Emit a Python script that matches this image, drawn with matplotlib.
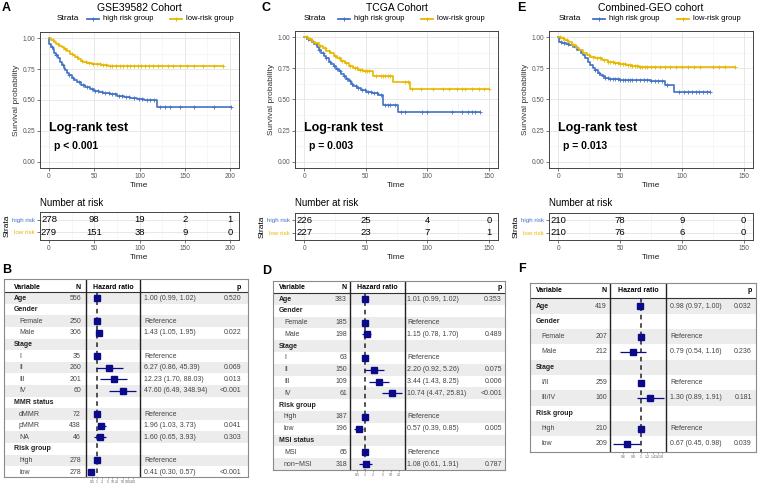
import numpy as np
import matplotlib.pyplot as plt
from matplotlib.lines import Line2D

plt.rcParams['font.family'] = ['Liberation Sans', 'DejaVu Sans']

W, H = 758, 486
BLUE = '#4472C4'
GOLD = '#E7B800'
NAVY = '#0B0B8A'

# ---------------- Kaplan-Meier curves (time, survival after step) ----------------
a_high_t = [0, 0.5, 2, 4, 6, 8, 10, 12, 14, 16, 18, 20, 22, 25, 28, 31, 35, 40, 45, 50,
            55, 60, 67, 75, 83, 90, 97, 105, 119, 201]
a_high_s = [1.0, 0.95, 0.93, 0.91, 0.88, 0.86, 0.84, 0.81, 0.78, 0.76, 0.74, 0.72, 0.70, 0.68,
            0.66, 0.645, 0.625, 0.605, 0.59, 0.575, 0.565, 0.555, 0.545, 0.535, 0.525, 0.515,
            0.505, 0.498, 0.445, 0.445]
a_high_cens = [3, 8, 15, 22, 27, 33, 38, 42, 47, 51, 54, 58, 62, 66, 70, 73, 77, 81, 85, 88,
               94, 99, 103, 108, 112, 116, 123, 128, 134, 145, 160, 182, 201]
a_low_t = [0, 2, 5, 8, 11, 14, 17, 20, 23, 26, 29, 32, 35, 38, 42, 47, 52, 57, 65, 192]
a_low_s = [1.0, 0.985, 0.97, 0.955, 0.94, 0.925, 0.91, 0.895, 0.875, 0.86, 0.845, 0.83, 0.815,
           0.805, 0.80, 0.795, 0.79, 0.78, 0.775, 0.775]
a_low_cens = [4, 10, 18, 25, 31, 36, 41, 44, 49, 53, 56, 60, 63, 67, 70, 74, 78, 82, 86, 90,
              94, 98, 102, 106, 110, 115, 120, 125, 131, 137, 145, 152, 160, 170, 182, 192]

c_high_t = [0, 2, 4, 6, 8, 10, 12, 14, 16, 18, 20, 22, 24, 26, 28, 30, 32, 34, 36, 38, 40,
            43, 46, 50, 55, 60, 64, 76, 143]
c_high_s = [1.0, 0.985, 0.975, 0.96, 0.945, 0.925, 0.90, 0.875, 0.85, 0.83, 0.805, 0.785,
            0.765, 0.745, 0.725, 0.705, 0.685, 0.665, 0.645, 0.625, 0.605, 0.59, 0.575, 0.56,
            0.55, 0.535, 0.455, 0.40, 0.40]
c_high_cens = [3, 7, 12, 15, 18, 21, 24, 27, 29, 32, 35, 37, 39, 42, 44, 47, 49, 52, 54, 57,
               59, 62, 66, 68, 70, 74, 79, 82, 96, 100, 120, 128, 133, 136, 139, 143]
c_low_t = [0, 3, 6, 9, 12, 15, 18, 21, 24, 27, 30, 33, 36, 40, 44, 48, 56, 72, 86, 150]
c_low_s = [1.0, 0.985, 0.965, 0.95, 0.93, 0.91, 0.89, 0.87, 0.85, 0.83, 0.81, 0.79, 0.765,
           0.75, 0.735, 0.73, 0.69, 0.64, 0.585, 0.585]
c_low_cens = [2, 5, 9, 13, 17, 20, 25, 28, 31, 34, 37, 41, 43, 45, 47, 49, 51, 53, 58, 62,
              64, 66, 68, 70, 82, 84, 88, 95, 105, 113, 118, 124, 128, 131, 136, 142, 146, 150]

e_high_t = [0, 0.5, 3, 6, 9, 12, 15, 18, 20, 22, 24, 26, 28, 30, 32, 34, 36, 38, 41, 50, 62,
            75, 86, 94, 123]
e_high_s = [1.0, 0.965, 0.955, 0.945, 0.935, 0.92, 0.90, 0.875, 0.855, 0.83, 0.805, 0.78,
            0.755, 0.735, 0.715, 0.70, 0.685, 0.675, 0.665, 0.66, 0.655, 0.65, 0.615, 0.56, 0.56]
e_high_cens = [2, 5, 8, 14, 30, 33, 36, 38, 40, 42, 44, 46, 48, 50, 52, 54, 56, 58, 60, 63,
               66, 69, 72, 75, 78, 81, 84, 88, 98, 102, 105, 108, 111, 114, 117, 120, 123]
e_low_t = [0, 2, 5, 8, 11, 14, 17, 20, 23, 26, 30, 35, 40, 45, 50, 55, 60, 65, 143]
e_low_s = [1.0, 0.99, 0.975, 0.96, 0.94, 0.915, 0.895, 0.875, 0.855, 0.845, 0.83, 0.815,
           0.805, 0.795, 0.785, 0.775, 0.765, 0.76, 0.76]
e_low_cens = [1, 4, 7, 12, 25, 28, 31, 34, 37, 40, 42, 44, 46, 48, 50, 52, 54, 56, 58, 60,
              62, 64, 66, 68, 70, 72, 75, 78, 82, 86, 90, 95, 100, 105, 110, 115, 125, 130,
              135, 143]

# number at risk
a_risk_times = [0, 50, 100, 150, 200]
a_risk_high = [278, 98, 19, 2, 1]
a_risk_low = [279, 151, 38, 9, 0]
c_risk_times = [0, 50, 100, 150]
c_risk_high = [226, 25, 4, 0]
c_risk_low = [227, 23, 7, 1]
e_risk_times = [0, 50, 100, 150]
e_risk_high = [210, 78, 9, 0]
e_risk_low = [210, 76, 6, 0]

# ---------------- forest plots ----------------
b_labels = ['Age', 'Gender', 'Female', 'Male', 'Stage', 'I', 'II', 'III', 'IV', 'MMR status',
            'dMMR', 'pMMR', 'NA', 'Risk group', 'high', 'low']
b_level = [0, 0, 1, 1, 0, 1, 1, 1, 1, 0, 1, 1, 1, 0, 1, 1]
b_n = [556, None, 250, 306, None, 35, 260, 201, 60, None, 72, 438, 46, None, 278, 278]
b_hr = [1.00, None, 1, 1.43, None, 1, 6.27, 12.23, 47.60, None, 1, 1.96, 1.60, None, 1, 0.41]
b_lo = [0.99, None, None, 1.05, None, None, 0.86, 1.70, 6.49, None, None, 1.03, 0.65, None, None, 0.30]
b_hi = [1.02, None, None, 1.95, None, None, 45.39, 88.03, 348.94, None, None, 3.73, 3.93, None, None, 0.57]
b_p = ['0.520', '', '', '0.022', '', '', '0.069', '0.013', '<0.001', '', '', '0.041', '0.303',
       '', '', '<0.001']

d_labels = ['Age', 'Gender', 'Female', 'Male', 'Stage', 'I', 'II', 'III', 'IV', 'Risk group',
            'high', 'low', 'MSI status', 'MSI', 'non\u2212MSI']
d_level = [0, 0, 1, 1, 0, 1, 1, 1, 1, 0, 1, 1, 0, 1, 1]
d_n = [383, None, 185, 198, None, 63, 150, 109, 61, None, 187, 196, None, 65, 318]
d_hr = [1.01, None, 1, 1.15, None, 1, 2.20, 3.44, 10.74, None, 1, 0.57, None, 1, 1.08]
d_lo = [0.99, None, None, 0.78, None, None, 0.92, 1.43, 4.47, None, None, 0.39, None, None, 0.61]
d_hi = [1.02, None, None, 1.70, None, None, 5.26, 8.25, 25.81, None, None, 0.85, None, None, 1.91]
d_p = ['0.353', '', '', '0.489', '', '', '0.075', '0.006', '<0.001', '', '', '0.005', '', '', '0.787']

f_labels = ['Age', 'Gender', 'Female', 'Male', 'Stage', 'I/II', 'III/IV', 'Risk group', 'high', 'low']
f_level = [0, 0, 1, 1, 0, 1, 1, 0, 1, 1]
f_n = [419, None, 207, 212, None, 259, 160, None, 210, 209]
f_hr = [0.98, None, 1, 0.79, None, 1, 1.30, None, 1, 0.67]
f_lo = [0.97, None, None, 0.54, None, None, 0.89, None, None, 0.45]
f_hi = [1.00, None, None, 1.16, None, None, 1.91, None, None, 0.98]
f_p = ['0.032', '', '', '0.236', '', '', '0.181', '', '', '0.039']

fig = plt.figure(figsize=(W / 100, H / 100), dpi=100)


def px_axes(x0, y0, x1, y1, **kw):
    return fig.add_axes([x0 / W, 1 - y1 / H, (x1 - x0) / W, (y1 - y0) / H], **kw)


def ftext(x, y, s, **kw):
    kw.setdefault('va', 'center')
    fig.text(x / W, 1 - y / H, s, **kw)


def surv_at(t, s, c):
    idx = np.searchsorted(t, c, side='right') - 1
    return np.asarray(s)[idx]


def style_grid(ax, xticks, yticks):
    ax.set_xticks(xticks)
    ax.set_yticks(yticks)
    ax.set_xticks([(a + b) / 2 for a, b in zip(xticks[:-1], xticks[1:])], minor=True)
    ax.grid(True, which='major', color='#E4E4E4', lw=0.6)
    ax.grid(True, which='minor', axis='x', color='#F0F0F0', lw=0.4)
    ax.set_axisbelow(True)
    for sp in ax.spines.values():
        sp.set_color('#444444')
        sp.set_linewidth(0.7)
    ax.tick_params(which='major', length=2, width=0.5, color='#444444',
                   labelsize=4.7, labelcolor='#555555', pad=1.5)
    ax.tick_params(which='minor', length=0)


def km_panel(box, xlim, xticks, curves, title, letter, letter_x, p_text, legend_x,
             risk_box, risk_times, risk_high, risk_low):
    x0, y0, x1, y1 = box
    ax = px_axes(x0, y0, x1, y1)
    for t, s, cens, col in curves:
        ax.step(t, s, where='post', color=col, lw=1.2)
        ax.plot(cens, surv_at(t, s, cens), ls='none', marker='+', ms=3, mew=0.6, color=col)
    ax.set_xlim(*xlim)
    ax.set_ylim(-0.05, 1.05)
    style_grid(ax, xticks, [0, 0.25, 0.5, 0.75, 1.0])
    ax.set_yticks([0.125, 0.375, 0.625, 0.875], minor=True)
    ax.grid(True, which='minor', axis='y', color='#F0F0F0', lw=0.4)
    ax.set_yticklabels(['0.00', '0.25', '0.50', '0.75', '1.00'])
    ax.set_ylabel('Survival probability', fontsize=6, color='#333333', labelpad=2)
    ax.set_xlabel('Time', fontsize=6, color='#222222', labelpad=1.5)
    ax.text(xlim[0] + 0.045 * (xlim[1] - xlim[0]), 0.27, 'Log-rank test',
            fontsize=9, fontweight='bold', va='center')
    ax.text(xlim[0] + 0.07 * (xlim[1] - xlim[0]), 0.13, p_text,
            fontsize=7.5, fontweight='bold', va='center')

    ftext((x0 + x1) / 2, 8, title, fontsize=7.5, ha='center')
    ftext(letter_x, 8, letter, fontsize=9, fontweight='bold')

    # legend
    lx = legend_x
    ftext(lx[0], 19, 'Strata', fontsize=6)
    for (a, b), col, lab in zip([(lx[1], lx[1] + 12), (lx[2], lx[2] + 12)], [BLUE, GOLD],
                                ['high risk group', 'low-risk group']):
        fig.add_artist(Line2D([a / W, b / W], [1 - 19 / H] * 2, color=col, lw=1.3))
        fig.add_artist(Line2D([(a + b) / 2 / W], [1 - 19 / H], color=col, marker='+',
                              ms=3, mew=0.7))
        ftext(b + 4, 19, lab, fontsize=5.5)

    # risk table
    rx0, ry0, rx1, ry1 = risk_box
    ftext(rx0, 203, 'Number at risk', fontsize=7)
    rax = px_axes(rx0, ry0, rx1, ry1)
    for tm, hi, lo in zip(risk_times, risk_high, risk_low):
        rax.text(tm, 2, str(hi), ha='center', va='center', fontsize=6.8)
        rax.text(tm, 1, str(lo), ha='center', va='center', fontsize=6.8)
    rax.set_xlim(*xlim)
    rax.set_ylim(0.4, 2.6)
    style_grid(rax, xticks, [1, 2])
    rax.set_yticklabels(['low risk', 'high risk'], fontsize=4.5)
    for lab, col in zip(rax.get_yticklabels(), [GOLD, BLUE]):
        lab.set_color(col)
    rax.set_ylabel('Strata', fontsize=6, labelpad=1)
    rax.set_xlabel('Time', fontsize=6, color='#222222', labelpad=1.5)


km_panel((40, 32, 239, 168), (-10, 210), [0, 50, 100, 150, 200],
         [(a_high_t, a_high_s, a_high_cens, BLUE), (a_low_t, a_low_s, a_low_cens, GOLD)],
         'GSE39582 Cohort', 'A', 2, 'p < 0.001', (57, 87, 170),
         (40, 212, 239, 240), a_risk_times, a_risk_high, a_risk_low)
km_panel((295, 31, 498, 168), (-7.5, 157.5), [0, 50, 100, 150],
         [(c_high_t, c_high_s, c_high_cens, BLUE), (c_low_t, c_low_s, c_low_cens, GOLD)],
         'TCGA Cohort', 'C', 262, 'p = 0.003', (304, 338, 421),
         (295, 213, 498, 240), c_risk_times, c_risk_high, c_risk_low)
km_panel((549, 31, 753, 168), (-7.5, 157.5), [0, 50, 100, 150],
         [(e_high_t, e_high_s, e_high_cens, BLUE), (e_low_t, e_low_s, e_low_cens, GOLD)],
         'Combined-GEO cohort', 'E', 517, 'p = 0.013', (559, 593, 677),
         (549, 213, 753, 240), e_risk_times, e_risk_high, e_risk_low)


def forest_panel(letter, letter_xy, box, seps, cols, head_y, row0, dy,
                 labels, level, ns, hrs, los, his, ps, xlim, xticks, xticklabels):
    x0, y0, x1, y1 = box
    s1, s2 = seps
    var_x, n_x, hr_x, p_x = cols
    ftext(letter_xy[0], letter_xy[1], letter, fontsize=9, fontweight='bold')
    ax = px_axes(x0, y0, x1, y1)
    ax.set_xlim(x0, x1)
    ax.set_ylim(y1, y0)
    ax.set_xticks([])
    ax.set_yticks([])
    for sp in ax.spines.values():
        sp.set_color('#8A8A8A')
        sp.set_linewidth(0.8)
    ys = [row0 + i * dy for i in range(len(labels))]
    for i, y in enumerate(ys):
        if i % 2 == 0:
            ax.axhspan(y - dy / 2, y + dy / 2, color='#ECECEC', lw=0)
    ax.axhline(row0 - dy / 2, color='#333333', lw=0.8)
    ax.axvline(s1, color='#222222', lw=1.0)
    ax.axvline(s2, color='#222222', lw=1.0)
    fs = 5
    ax.text(var_x, head_y, 'Variable', fontsize=fs, fontweight='bold', va='center')
    ax.text(n_x, head_y, 'N', fontsize=fs, fontweight='bold', va='center', ha='right')
    ax.text((s1 + s2) / 2, head_y, 'Hazard ratio', fontsize=fs, fontweight='bold',
            va='center', ha='center')
    ax.text(p_x, head_y, 'p', fontsize=fs, fontweight='bold', va='center', ha='right')
    for y, lab, lv, n, hr, lo, hi, p in zip(ys, labels, level, ns, hrs, los, his, ps):
        bold = lv == 0
        ax.text(var_x + (5 if lv else 0), y, lab, fontsize=fs, va='center',
                fontweight='bold' if bold else 'normal', color='#222222' if bold else '#444444')
        if n is not None:
            ax.text(n_x, y, str(n), fontsize=fs, va='center', ha='right', color='#444444')
        if hr is not None:
            txt = 'Reference' if lo is None else f'{hr:.2f} ({lo:.2f}, {hi:.2f})'
            ax.text(hr_x, y, txt, fontsize=fs, va='center', color='#444444')
        if p:
            ax.text(p_x, y, p, fontsize=fs, va='center', ha='right', color='#444444')

    fax = px_axes(s1, y0, s2, y1)
    fax.set_facecolor('none')
    fax.set_xscale('log')
    fax.set_xlim(*xlim)
    fax.set_ylim(y1, y0)
    fax.vlines(1, ys[0] - dy / 2, ys[-1] + dy / 2, color='#222222', lw=1.1,
               linestyles=(0, (3, 2.5)))
    for y, hr, lo, hi in zip(ys, hrs, los, his):
        if hr is None:
            continue
        if lo is not None:
            fax.hlines(y, lo, hi, color=NAVY, lw=0.9)
        fax.plot([hr], [y], marker='s', ms=3.8, color=NAVY, ls='none')
    for sp in fax.spines.values():
        sp.set_visible(False)
    fax.set_yticks([])
    fax.set_xticks(xticks)
    fax.set_xticklabels(xticklabels)
    fax.minorticks_off()
    fax.tick_params(axis='x', length=1.5, width=0.4, color='#777777', labelsize=2.6,
                    labelcolor='#666666', pad=0.8)


forest_panel('B', (2, 270), (4, 279, 248, 477), (86, 140), (14, 81, 144, 241), 287, 298, 11.6,
             b_labels, b_level, b_n, b_hr, b_lo, b_hi, b_p, (0.2, 600),
             [0.5, 1, 2, 5, 10, 20, 50, 100, 200],
             ['0.5', '1', '2', '5', '10', '20', '50', '100', '200'])
forest_panel('D', (262, 271), (273, 281, 505, 470), (350, 405), (279, 347, 407, 502), 287, 299,
             11.79, d_labels, d_level, d_n, d_hr, d_lo, d_hi, d_p, (0.27, 33.4),
             [0.5, 1, 2, 5, 10, 20], ['0.5', '1', '2', '5', '10', '20'])
forest_panel('F', (518, 269), (530, 283, 756, 452), (610, 666), (536, 607, 670, 752), 291, 306,
             15.33, f_labels, f_level, f_n, f_hr, f_lo, f_hi, f_p, (0.41, 2.04),
             [0.6, 0.8, 1, 1.2, 1.4, 1.6, 1.8], ['0.6', '0.8', '1', '1.2', '1.4', '1.6', '1.8'])

fig.savefig('out.png', dpi=100)
